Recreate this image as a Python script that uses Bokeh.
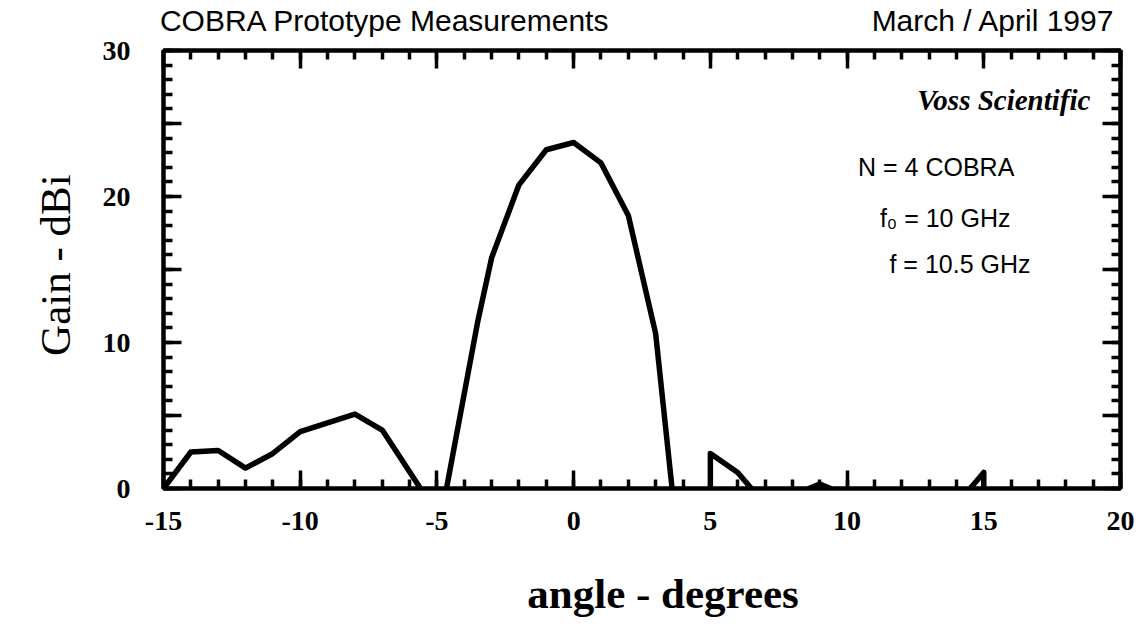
from bokeh.plotting import figure
from bokeh.models import LinearAxis, FixedTicker, Range1d, Label
from bokeh.embed import file_html
from bokeh.resources import INLINE

NaN = float("nan")

# Measured gain pattern (dBi) vs angle (degrees); values at the 0 dBi floor are clipped
angle = [-15, -14, -13, -12, -11, -10, -9, -8, -7, -5.6, NaN,
         -4.65, -3.5, -3, -2, -1, 0, 1, 2, 3, 3.6, NaN,
         5, 5, 6, 6.5, NaN,
         8.6, 9, 9.4, NaN,
         14.5, 15, 15]
gain = [0, 2.5, 2.6, 1.4, 2.4, 3.9, 4.5, 5.1, 4.0, 0, NaN,
        0, 11.5, 15.8, 20.8, 23.2, 23.7, 22.3, 18.7, 10.6, 0, NaN,
        0, 2.4, 1.1, 0, NaN,
        0, 0.3, 0, NaN,
        0, 1.1, 0]

x_major = [-15, -10, -5, 0, 5, 10, 15, 20]
x_minor = list(range(-15, 21))
x_labels = {-15: "-15", -10: "-10", -5: "-5", 0: "0", 5: "5", 10: "10", 15: "15", 20: "20"}
y_major = [0, 5, 10, 15, 20, 25, 30]
y_minor = list(range(0, 31))
y_labels = {0: "0", 5: "", 10: "10", 15: "", 20: "20", 25: "", 30: "30"}

title_left = "COBRA Prototype Measurements"
title_right = "March / April 1997"
x_title = "angle - degrees"
y_title = "Gain - dBi"
company = "Voss Scientific"
notes = ["N = 4 COBRA", "f\u2080 = 10 GHz", "f = 10.5 GHz"]

p = figure(width=1144, height=627, x_range=Range1d(-15, 20), y_range=Range1d(0, 30),
           output_backend="svg", toolbar_location=None,
           min_border_left=163, min_border_right=24, min_border_top=50, min_border_bottom=139)
p.background_fill_color = "white"
p.border_fill_color = "white"
p.outline_line_color = "black"
p.outline_line_width = 4
p.xgrid.visible = False
p.ygrid.visible = False


def style_axis(ax, ticks, minor, labels=True, overrides=None):
    ax.ticker = FixedTicker(ticks=ticks, minor_ticks=minor)
    ax.axis_line_width = 4
    ax.axis_line_color = "black"
    ax.major_tick_in = 18
    ax.major_tick_out = 0
    ax.minor_tick_in = 9
    ax.minor_tick_out = 0
    ax.major_tick_line_width = 3.5
    ax.minor_tick_line_width = 3.5
    ax.major_tick_line_color = "black"
    ax.minor_tick_line_color = "black"
    if labels:
        ax.major_label_text_font = "Liberation Serif"
        ax.major_label_text_font_style = "bold"
        ax.major_label_text_font_size = "28px"
        ax.major_label_text_color = "black"
        if overrides:
            ax.major_label_overrides = overrides
    else:
        ax.major_label_text_font_size = "0px"
        ax.major_label_text_color = None
        ax.major_label_standoff = 0


def text_axis(ax, ticks, texts, font, size, style, standoff):
    # an axis used only to place texts outside the frame
    ax.ticker = FixedTicker(ticks=ticks, minor_ticks=[])
    ax.axis_line_color = None
    ax.major_tick_line_color = None
    ax.minor_tick_line_color = None
    ax.major_tick_in = 0
    ax.major_tick_out = 0
    ax.major_label_overrides = dict(zip(ticks, texts))
    ax.major_label_text_font = font
    ax.major_label_text_font_size = size
    ax.major_label_text_font_style = style
    ax.major_label_text_color = "black"
    ax.major_label_standoff = standoff


xa = p.xaxis[0]
style_axis(xa, x_major, x_minor, overrides=x_labels)
xa.major_label_standoff = 23

ya = p.yaxis[0]
style_axis(ya, y_major, y_minor, overrides=y_labels)
ya.major_label_standoff = 33

top = LinearAxis()
style_axis(top, x_major, x_minor, labels=False)
p.add_layout(top, "above")
right = LinearAxis()
style_axis(right, y_major, y_minor, labels=False)
p.add_layout(right, "right")

# axis titles
xt = LinearAxis()
text_axis(xt, [3.27], [x_title], "Liberation Serif", "43px", "bold", 37)
p.add_layout(xt, "below")
yt = LinearAxis()
text_axis(yt, [15.3], [y_title], "Liberation Serif", "43px", "normal", 20)
yt.major_label_orientation = "vertical"
p.add_layout(yt, "left")

# header texts on one row above the frame
hd = LinearAxis()
text_axis(hd, [-6.9, 15.35], [title_left, title_right], "Liberation Sans", "30px", "normal", 14)
p.add_layout(hd, "above")

p.line(angle, gain, line_color="black", line_width=5.5, line_join="round", line_cap="round")

p.add_layout(Label(x=18.9, y=26.6, text=company, text_font="Liberation Serif",
                   text_font_style="bold italic", text_font_size="29px", text_color="black",
                   text_baseline="middle", text_align="right"))
p.add_layout(Label(x=10.4, y=22.05, text=notes[0], text_font="Liberation Sans", text_color="black",
                   text_font_size="25px", text_baseline="middle", text_align="left"))
p.add_layout(Label(x=11.2, y=18.5, text=notes[1], text_font="Liberation Sans", text_color="black",
                   text_font_size="25px", text_baseline="middle", text_align="left"))
p.add_layout(Label(x=11.55, y=15.35, text=notes[2], text_font="Liberation Sans", text_color="black",
                   text_font_size="25px", text_baseline="middle", text_align="left"))

open("out.html", "w").write(file_html(p, INLINE))
